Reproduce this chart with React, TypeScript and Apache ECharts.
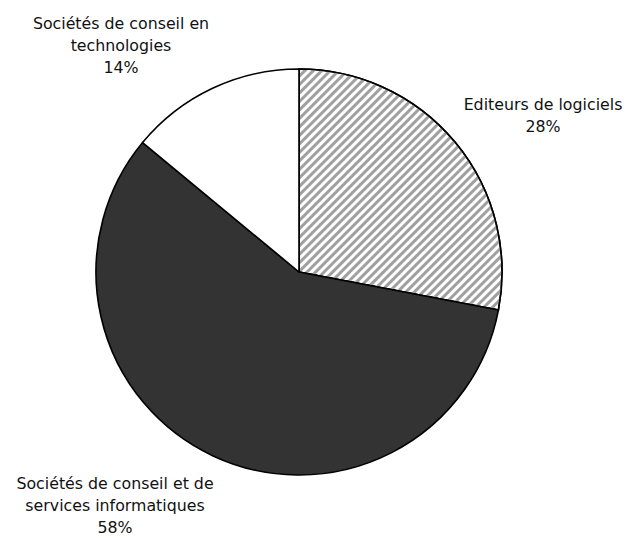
import React, { useEffect, useRef } from "react";
import * as echarts from "echarts";

const categories = [
  "Editeurs de logiciels",
  "Sociétés de conseil et de\nservices informatiques",
  "Sociétés de conseil en\ntechnologies",
];
const values = [28, 58, 14];

const labelPos: [number, number][] = [
  [543, 115],
  [115, 505],
  [121, 45],
];

export default function App() {
  const ref = useRef<HTMLDivElement>(null);
  useEffect(() => {
    if (!ref.current) return;
    const chart = echarts.init(ref.current, undefined, { renderer: "svg" });
    const fills = [
      {
        color: "#ffffff",
        decal: {
          symbol: "rect",
          symbolSize: 1,
          color: "#a0a0a0",
          dashArrayX: [1, 0],
          dashArrayY: [3, 3],
          rotation: -Math.PI / 4,
        },
      },
      { color: "#333333" },
      { color: "#ffffff" },
    ];
    chart.setOption({
      animation: false,
      backgroundColor: "#ffffff",
      series: [
        {
          type: "pie",
          center: [299, 272],
          radius: 203,
          startAngle: 90,
          clockwise: true,
          avoidLabelOverlap: false,
          itemStyle: { borderColor: "#000", borderWidth: 1.6 },
          label: {
            show: true,
            position: "outside",
            formatter: (p: any) => `${p.name}\n${p.value}%`,
            fontFamily: "DejaVu Sans",
            fontSize: 15.8,
            lineHeight: 22,
            color: "#111",
            align: "center",
          },
          labelLine: { show: false },
          labelLayout: (params: any) => {
            const [x, y] = labelPos[params.dataIndex];
            return { x, y, align: "center", verticalAlign: "middle" };
          },
          emphasis: { disabled: true },
          data: categories.map((name, i) => ({
            name,
            value: values[i],
            itemStyle: fills[i],
          })),
        },
      ],
    });
    return () => chart.dispose();
  }, []);
  return (
    <div
      ref={ref}
      style={{ position: "fixed", left: 0, top: 0, width: 627, height: 538 }}
    />
  );
}
